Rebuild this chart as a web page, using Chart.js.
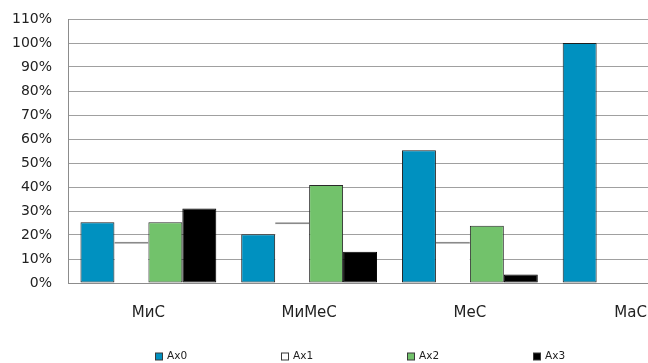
<!DOCTYPE html>
<html>
<head>
<meta charset="utf-8">
<script src="https://cdn.jsdelivr.net/npm/chart.js@4/dist/chart.umd.min.js"></script>
<style>
  html, body { margin: 0; padding: 0; background: #fff; overflow: hidden; }
  #wrap { width: 720px; height: 363px; }
</style>
</head>
<body>
<div id="wrap"><canvas id="chart" width="720" height="363"></canvas></div>
<script>
// Categories along the x axis
const categories = ['МиС', 'МиМеС', 'МеС', 'МаС'];

// Series values, in percent
const ax0 = [25.3, 20.3, 55.3, 100];
const ax1 = [17.2, 25.3, 17.2, 0];
const ax2 = [25.3, 40.8, 23.9, 0];
const ax3 = [31.0, 13.0, 3.5, 0];

const seriesNames = ['Ax0', 'Ax1', 'Ax2', 'Ax3'];

// Y axis ticks
const yMax = 110;
const yStep = 10;

const FONT = 'DejaVu Sans';

// Legend drawn as a row of small squares along the bottom edge
const bottomLegend = {
  id: 'bottomLegend',
  afterDraw(chart) {
    const ctx = chart.ctx;
    const sets = chart.data.datasets;
    const spacing = 126, box = 7, gap = 3;
    ctx.save();
    ctx.font = '10.5px "' + FONT + '"';
    ctx.textBaseline = 'middle';
    const lastW = box + gap + 2 + ctx.measureText(sets[sets.length - 1].label).width;
    const total = spacing * (sets.length - 1) + lastW;
    let x = Math.round(chart.width / 2 - total / 2);
    const y = 356;
    sets.forEach(ds => {
      ctx.fillStyle = ds.backgroundColor;
      ctx.fillRect(x + 0.5, y - box / 2 + 0.5, box, box);
      ctx.strokeStyle = '#3a3a3a';
      ctx.lineWidth = 1;
      ctx.strokeRect(x + 0.5, y - box / 2 + 0.5, box, box);
      ctx.fillStyle = '#222';
      ctx.fillText(ds.label, x + box + gap + 2, y + 0.5);
      x += spacing;
    });
    ctx.restore();
  }
};

const colors = ['#0091C0', '#FFFFFF', '#72C26B', '#000000'];
const borders = ['#1e1e1e', '#8a8a8a', '#2a2a2a', '#000000'];
const widths = [1, { top: 2, left: 0, right: 0, bottom: 0 }, 1, 1];

new Chart(document.getElementById('chart'), {
  type: 'bar',
  data: {
    labels: categories,
    datasets: [ax0, ax1, ax2, ax3].map((d, i) => ({
      label: seriesNames[i],
      data: d,
      backgroundColor: colors[i],
      borderColor: borders[i],
      borderWidth: widths[i],
      borderSkipped: false,
      categoryPercentage: 0.845,
      barPercentage: 1.0
    }))
  },
  options: {
    responsive: false,
    animation: false,
    devicePixelRatio: 1,
    layout: { padding: { top: 19, right: 9, left: 0, bottom: 0 } },
    plugins: {
      legend: { display: false },
      tooltip: { enabled: false }
    },
    scales: {
      x: {
        grid: { display: false, drawTicks: false },
        border: { color: '#8c8c8c', width: 1 },
        ticks: {
          padding: 21,
          color: '#222',
          font: { family: FONT, size: 15 }
        },
        afterFit(scale) { scale.height = 80; }
      },
      y: {
        min: 0,
        max: yMax,
        grid: { color: '#a0a0a0', drawTicks: false, lineWidth: 1 },
        border: { color: '#8c8c8c', width: 1 },
        ticks: {
          stepSize: yStep,
          padding: 16,
          color: '#222',
          font: { family: FONT, size: 14 },
          callback: v => v + '%'
        },
        afterFit(scale) {
          scale.width = 68;
          // the label gap is horizontal only; keep it out of the vertical margins
          scale.paddingTop = 0;
          scale.paddingBottom = 0;
        }
      }
    }
  },
  plugins: [bottomLegend]
});
</script>
</body>
</html>
